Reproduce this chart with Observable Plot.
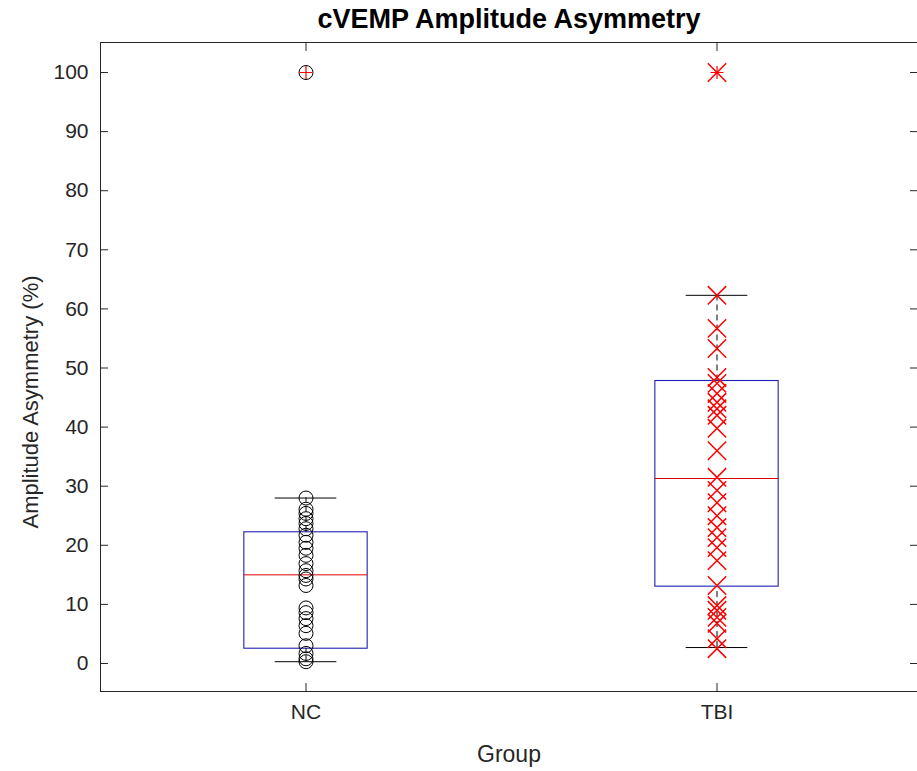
<!DOCTYPE html>
<html>
<head>
<meta charset="utf-8">
<script src="https://cdn.jsdelivr.net/npm/d3@7"></script>
<script src="https://cdn.jsdelivr.net/npm/@observablehq/plot@0.6"></script>
<style>
  html, body { margin: 0; padding: 0; background: #fff; }
  #chart svg { display: block; }
</style>
</head>
<body>
<div id="chart"></div>
<script>
// ---- data ----
const groups = ["NC", "TBI"];
const groupPositions = [1, 2];
const ncValues = [100, 28.0, 26.1, 25.4, 24.5, 23.7, 22.8, 21.7, 20.5, 19.5, 18.3, 16.9, 15.7, 14.9, 14.3, 13.2, 9.4, 8.6, 7.6, 6.4, 5.1, 3.0, 1.7, 0.8, 0.3];
const tbiValues = [100, 62.3, 56.7, 53.3, 48.4, 47.4, 45.7, 44.2, 43.1, 42.0, 39.8, 36.0, 31.5, 29.3, 27.2, 25.0, 23.0, 21.3, 19.6, 17.4, 13.2, 9.8, 9.0, 7.8, 6.8, 4.2, 2.5];
const boxQ1 = [2.5, 13.0];
const boxMedian = [15.0, 31.3];
const boxQ3 = [22.2, 47.8];
const whiskerLow = [0.3, 2.7];
const whiskerHigh = [28.0, 62.3];
const outlierValues = [100, 100];
const yTicks = [0, 10, 20, 30, 40, 50, 60, 70, 80, 90, 100];

// ---- derived tables ----
const boxes = groups.map((g, i) => ({
  group: g, pos: groupPositions[i],
  q1: boxQ1[i], median: boxMedian[i], q3: boxQ3[i],
  lo: whiskerLow[i], hi: whiskerHigh[i]
}));
const ncPoints = ncValues.map(v => ({pos: groupPositions[0], v}));
const tbiPoints = tbiValues.map(v => ({pos: groupPositions[1], v}));
const outliers = outlierValues.map((v, i) => ({pos: groupPositions[i], v}));

const boxHalf = 0.15, capHalf = 0.075;
const axisColor = "#262626";
const font = "Liberation Sans, Arial, Helvetica, sans-serif";

const chart = Plot.plot({
  width: 917,
  height: 771,
  marginTop: 42,
  marginBottom: 80,
  marginLeft: 100,
  marginRight: 0,
  style: {fontFamily: font, background: "#fff", color: axisColor},
  x: {domain: [0.5, 2.5], range: [100, 922], axis: null},
  y: {domain: [-4.74, 105.08], axis: null},
  marks: [
    Plot.frame({stroke: axisColor, strokeWidth: 1}),
    // y axis left
    Plot.axisY(yTicks, {anchor: "left", tickSize: -8, tickPadding: 20, fontSize: 21, label: null, stroke: axisColor, fill: axisColor}),
    // y axis right (ticks only)
    Plot.axisY(yTicks, {anchor: "right", tickSize: -8, tickFormat: () => "", label: null, stroke: axisColor}),
    // x axis bottom
    Plot.axisX(groupPositions, {anchor: "bottom", tickSize: -8, tickPadding: 21, fontSize: 21, tickFormat: (d, i) => groups[i], label: null, stroke: axisColor, fill: axisColor}),
    // x axis top (ticks only)
    Plot.axisX(groupPositions, {anchor: "top", tickSize: -8, tickFormat: () => "", label: null, stroke: axisColor}),
    // boxes
    Plot.rect(boxes, {x1: d => d.pos - boxHalf, x2: d => d.pos + boxHalf, y1: "q1", y2: "q3", fill: "none", stroke: "#2020b0", strokeWidth: 1.1}),
    // whiskers (dashed)
    Plot.ruleX(boxes, {x: "pos", y1: "q3", y2: "hi", stroke: "#000", strokeDasharray: "6,4"}),
    Plot.ruleX(boxes, {x: "pos", y1: "lo", y2: "q1", stroke: "#000", strokeDasharray: "6,4"}),
    // caps
    Plot.ruleY(boxes, {y: "hi", x1: d => d.pos - capHalf, x2: d => d.pos + capHalf, stroke: "#000"}),
    Plot.ruleY(boxes, {y: "lo", x1: d => d.pos - capHalf, x2: d => d.pos + capHalf, stroke: "#000"}),
    // median
    Plot.ruleY(boxes, {y: "median", x1: d => d.pos - boxHalf, x2: d => d.pos + boxHalf, stroke: "#e00000"}),
    // scatter
    Plot.dot(ncPoints, {x: "pos", y: "v", r: 7, stroke: "#000", fill: "none", strokeWidth: 1}),
    Plot.dot(tbiPoints, {x: "pos", y: "v", symbol: "times", r: 8.4, stroke: "#ff0000", strokeWidth: 1.5}),
    // outliers (+)
    Plot.dot(outliers, {x: "pos", y: "v", symbol: "plus", r: 4.2, stroke: "#ff0000", strokeWidth: 1.2}),
    // title & labels
    Plot.text(["cVEMP Amplitude Asymmetry"], {frameAnchor: "top", dy: -34, fontSize: 27, fontWeight: "bold", fill: "#000"}),
    Plot.text(["Amplitude Asymmetry (%)"], {frameAnchor: "left", textAnchor: "middle", rotate: -90, dx: -70, dy: 35, fontSize: 22, fill: axisColor}),
    Plot.text(["Group"], {frameAnchor: "bottom", dy: 70, fontSize: 23, fill: axisColor})
  ]
});
document.getElementById("chart").appendChild(chart);
</script>
</body>
</html>
